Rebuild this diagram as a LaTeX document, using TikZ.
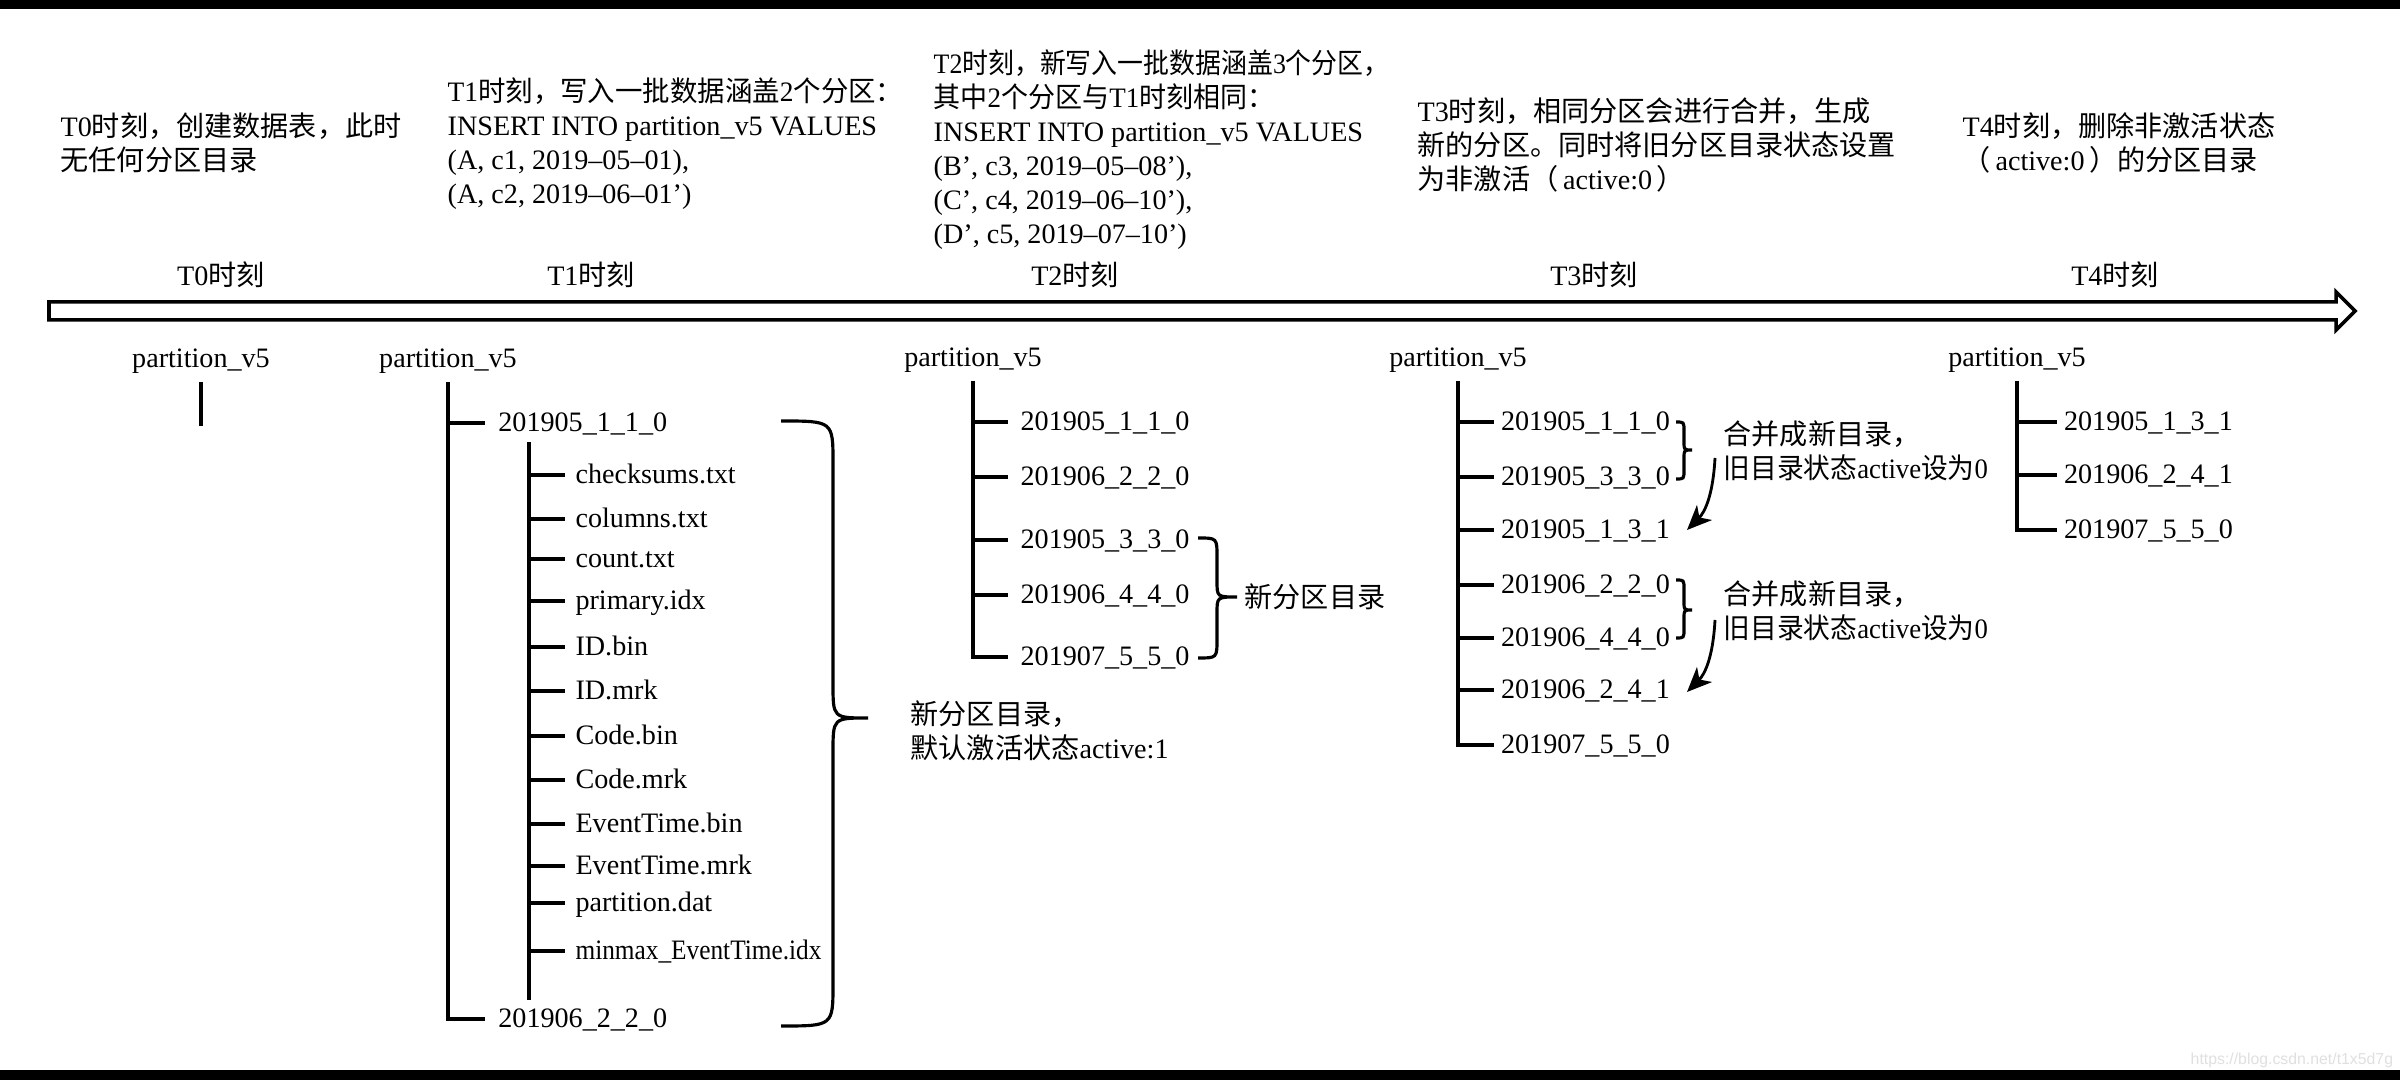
\documentclass[tikz,border=0pt]{standalone}
\usepackage{fontspec}
\usepackage{graphicx}
\setmainfont{Liberation Serif}
\newfontfamily\zhfont{Noto Sans CJK SC}
\newfontfamily\wmfont{Liberation Sans}
\newcommand\z[1]{{\zhfont #1}}
\usetikzlibrary{arrows.meta}
\newcommand\mybrace[8]{% xl xm xt yt ym yb r rm
  \draw[brc] (#1,#4) .. controls (#2,#4) .. (#2,#4+#7) -- (#2,#5-#8)
    .. controls (#2,#5) .. (#3,#5) .. controls (#2,#5) .. (#2,#5+#8)
    -- (#2,#6-#7) .. controls (#2,#6) .. (#1,#6);}
\tikzset{
  ln/.style={line width=0.9pt},
  root/.style={inner xsep=0pt, inner ysep=2.8pt, text height=6pt, text depth=1pt},
  leaf/.style={anchor=west, inner ysep=0pt, inner xsep=#1, text height=6pt, text depth=1pt},
  leaf/.default=3pt,
  para/.style={anchor=north west, align=left, inner sep=0pt},
  tlabel/.style={inner sep=0pt},
  brc/.style={line width=0.9pt},
  garrow/.style={line width=0.8pt, -{Stealth[length=7pt,width=6pt,inset=2pt]}},
  bigarrow/.style={line width=1pt, line join=miter}
}
\begin{document}
\begin{tikzpicture}[x=0.01cm,y=-0.01cm,font=\fontsize{8}{9.7}\selectfont]
\useasboundingbox (0,0) rectangle (2400,1080);
\fill[white] (0,0) rectangle (2400,1080);
\fill[black] (0,0) rectangle (2400,9);
\fill[black] (0,1070) rectangle (2400,1080);

% descriptions
\node[para] (d0) at (60,111) {\rule{0pt}{7pt}T0\z{时刻，创建数据表，此时}\\\z{无任何分区目录}};
\node[para] (d1) at (447,76) {\rule{0pt}{7pt}\scalebox{0.975}[1]{T1\z{时刻，写入一批数据涵盖}2\z{个分区：}}\\
INSERT INTO partition\_v5 VALUES\\
(A, c1, 2019–05–01),\\
(A, c2, 2019–06–01’)};
\node[para] (d2) at (933,48) {\rule{0pt}{7pt}\scalebox{0.92}[1]{T2\z{时刻，新写入一批数据涵盖}3\z{个分区，}}\\
\scalebox{0.96}[1]{\z{其中}2\z{个分区与}T1\z{时刻相同：}}\\
INSERT INTO partition\_v5 VALUES\\
(B’, c3, 2019–05–08’),\\
(C’, c4, 2019–06–10’),\\
(D’, c5, 2019–07–10’)};
\node[para] (d3) at (1417,96) {\rule{0pt}{7pt}T3\z{时刻，相同分区会进行合并，生成}\\
\z{新的分区。同时将旧分区目录状态设置}\\
\z{为非激活（}\,active:0\,\z{）}};
\node[para] (d4) at (1962,111) {\rule{0pt}{7pt}T4\z{时刻，删除非激活状态}\\
\z{（}\,active:0\,\z{）的分区目录}};

% time labels
\node[tlabel] (l0) at (221,275) {T0\z{时刻}};
\node[tlabel] (l1) at (591,275) {T1\z{时刻}};
\node[tlabel] (l2) at (1075,275) {T2\z{时刻}};
\node[tlabel] (l3) at (1594,275) {T3\z{时刻}};
\node[tlabel] (l4) at (2115,275) {T4\z{时刻}};

% time axis
\draw[bigarrow] (49,302) -- (2336,302) -- (2336,292) -- (2355,311) -- (2336,330) -- (2336,320) -- (49,320) -- cycle;

% T0 tree
\node[root] (r0) at (201,359) {partition\_v5};
\coordinate (r0e) at (201,426);
\draw[ln] (r0.south) -- (r0e);

% T1 tree
\node[root] (r1) at (448,359) {partition\_v5};
\node[leaf=3.6pt] (a) at (485,423) {201905\_1\_1\_0};
\node[leaf=3.6pt] (b) at (485,1019) {201906\_2\_2\_0};
\draw[ln] (r1.south) |- (b.west);
\draw[ln] (r1.south |- a.west) -- (a.west);
\coordinate (s1t) at (529,442);
\coordinate (s1b) at (529,1000);
\draw[ln] (s1t) -- (s1b);
\foreach \n/\y/\t in {f1/475/checksums.txt, f2/519/columns.txt, f3/559/count.txt,
  f4/601/primary.idx, f5/647/ID.bin, f6/691/ID.mrk, f7/736/Code.bin, f8/780/Code.mrk,
  f9/824/EventTime.bin, f10/866/EventTime.mrk, f11/903/partition.dat}{
  \node[leaf=2.8pt] (\n) at (565,\y) {\t};
  \draw[ln] (s1t |- \n.west) -- (\n.west);
}
\node[leaf=2.8pt] (f12) at (565,951) {\scalebox{0.9}[1]{minmax\_EventTime.idx}};
\draw[ln] (s1t |- f12.west) -- (f12.west);
\mybrace{781}{833}{868}{421}{718}{1026}{42}{34}
\node[para] (bl1) at (910,699) {\rule{0pt}{7pt}\z{新分区目录，}\\\z{默认激活状态}active:1};

% T2 tree
\node[root] (r2) at (973,358) {partition\_v5};
\foreach \n/\y/\t in {g1/422/201905\_1\_1\_0, g2/477/201906\_2\_2\_0, g3/540/201905\_3\_3\_0,
  g4/595/201906\_4\_4\_0}{
  \node[leaf=3.4pt] (\n) at (1008,\y) {\t};
  \draw[ln] (r2.south |- \n.west) -- (\n.west);
}
\node[leaf=3.4pt] (g5) at (1008,657) {201907\_5\_5\_0};
\draw[ln] (r2.south) |- (g5.west);
\mybrace{1198}{1217}{1237}{538}{597}{658}{19}{16}
\node[anchor=west, inner sep=0pt] (bl2) at (1244,597) {\z{新分区目录}};

% T3 tree
\node[root] (r3) at (1458,358) {partition\_v5};
\foreach \n/\y/\t in {h1/422/201905\_1\_1\_0, h2/477/201905\_3\_3\_0, h3/530/201905\_1\_3\_1,
  h4/585/201906\_2\_2\_0, h5/638/201906\_4\_4\_0, h6/690/201906\_2\_4\_1}{
  \node[leaf=1.8pt] (\n) at (1494,\y) {\t};
  \draw[ln] (r3.south |- \n.west) -- (\n.west);
}
\node[leaf=1.8pt] (h7) at (1494,745) {201907\_5\_5\_0};
\draw[ln] (r3.south) |- (h7.west);
\mybrace{1676}{1684}{1692}{422}{450}{479}{9}{8}
\mybrace{1676}{1684}{1692}{580}{610}{638}{9}{8}
\node[para] (m1) at (1723,419) {\rule{0pt}{7pt}\z{合并成新目录，}\\\scalebox{0.95}[1]{\z{旧目录状态}active\z{设为}0}};
\node[para] (m2) at (1723,579) {\rule{0pt}{7pt}\z{合并成新目录，}\\\scalebox{0.95}[1]{\z{旧目录状态}active\z{设为}0}};
\coordinate (a1s) at (1715,458);
\coordinate (a1e) at (1687,530);
\draw[garrow] (a1s) .. controls (1713,495) and (1705,512) .. (a1e);
\coordinate (a2s) at (1715,620);
\coordinate (a2e) at (1687,692);
\draw[garrow] (a2s) .. controls (1713,657) and (1705,674) .. (a2e);

% T4 tree
\node[root] (r4) at (2017,358) {partition\_v5};
\node[leaf=1.8pt] (k1) at (2057,422) {201905\_1\_3\_1};
\node[leaf=1.8pt] (k2) at (2057,475) {201906\_2\_4\_1};
\node[leaf=1.8pt] (k3) at (2057,530) {201907\_5\_5\_0};
\draw[ln] (r4.south) |- (k3.west);
\draw[ln] (r4.south |- k1.west) -- (k1.west);
\draw[ln] (r4.south |- k2.west) -- (k2.west);

% watermark
\node[anchor=west, inner sep=0pt, text=black!12, font=\wmfont\fontsize{4.5}{5}\selectfont] (wm) at (2190,1060) {https://blog.csdn.net/t1x5d7g};
\end{tikzpicture}
\end{document}
